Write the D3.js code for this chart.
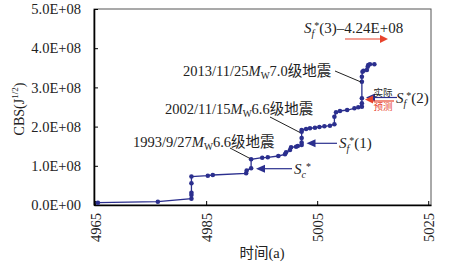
<!DOCTYPE html>
<html>
<head>
<meta charset="utf-8">
<script src="https://cdn.jsdelivr.net/npm/d3@7"></script>
<style>
  html, body { margin: 0; padding: 0; background: #fff; }
  svg { display: block; }
  text { font-family: "Liberation Serif", "Times New Roman", "Noto Sans CJK SC", serif; fill: #222; }
  .axis path, .axis line { stroke: #000; }
</style>
</head>
<body>
<div id="chart"></div>
<script>
// tahun (skala aneh 49xx memang dari sumber) dan CBS kumulatif
const years = [4965.5, 4976.3, 4982.35, 4982.35, 4982.35, 4982.35, 4982.35, 4985.3, 4986.2,
  4992.2, 4992.3, 4993.1, 4993.1, 4995.1, 4996.1, 4998.0, 4999.2, 4999.4, 5000.1, 5000.3,
  5001.2, 5001.5, 5002.2, 5002.2, 5002.2, 5002.2, 5002.2, 5003.0, 5003.7, 5004.6, 5005.4,
  5006.3, 5007.3, 5008.1, 5008.1, 5008.4, 5009.1, 5010.4, 5011.7, 5012.4, 5013.05, 5013.05,
  5013.05, 5013.05, 5013.05, 5013.16, 5013.34, 5013.95, 5014.1, 5014.2, 5014.5, 5015.3];
const cbs = [0.059, 0.084, 0.161, 0.255, 0.314, 0.554, 0.727, 0.747, 0.765,
  0.809, 0.88, 0.936, 1.166, 1.207, 1.217, 1.25, 1.293, 1.344, 1.403, 1.472,
  1.487, 1.505, 1.53, 1.59, 1.71, 1.87, 1.913, 1.939, 1.957, 1.972, 1.99,
  2.008, 2.023, 2.059, 2.253, 2.365, 2.398, 2.423, 2.467, 2.492, 2.508, 2.594,
  2.722, 3.145, 3.273, 3.40, 3.426, 3.444, 3.528, 3.571, 3.589, 3.589].map(v => v * 1e8);
const yTicks = [0, 1e8, 2e8, 3e8, 4e8, 5e8];
const yTickLabels = ["0.0E+00", "1.0E+08", "2.0E+08", "3.0E+08", "4.0E+08", "5.0E+08"];
const xTicks = [4965, 4985, 5005, 5025];

const W = 452, H = 269;
const m = { t: 9, r: 21, b: 64, l: 94 };
const navy = "#2b2f8e", red = "#e8432c";
const svg = d3.select("#chart").append("svg").attr("width", W).attr("height", H);

const x = d3.scaleLinear().domain([4964.8, 5025.5]).range([m.l, W - m.r]);
const y = d3.scaleLinear().domain([0, 5e8]).range([H - m.b, m.t]);

// bingkai atas/kanan tipis
svg.append("rect").attr("x", m.l).attr("y", m.t)
  .attr("width", W - m.r - m.l).attr("height", H - m.b - m.t)
  .attr("fill", "none").attr("stroke", "#555").attr("stroke-width", 1);

// axes (tick ke dalam)
const ax = svg.append("g").attr("class", "axis").attr("transform", `translate(0,${H - m.b})`)
  .call(d3.axisBottom(x).tickValues(xTicks).tickSize(-4).tickSizeOuter(0).tickFormat(d3.format("d")));
ax.selectAll("text").attr("font-size", 14.5)
  .attr("transform", "rotate(-90)").attr("x", -8).attr("y", 0).attr("dy", "0.35em")
  .style("text-anchor", "end");
const ay = svg.append("g").attr("class", "axis").attr("transform", `translate(${m.l},0)`)
  .call(d3.axisLeft(y).tickValues(yTicks).tickSize(-4).tickSizeOuter(0).tickPadding(13)
    .tickFormat((d, i) => yTickLabels[i]));
ay.selectAll("text").attr("font-size", 14.5);
svg.selectAll(".axis .domain").attr("stroke-width", 1.6);
svg.selectAll(".axis text").attr("fill", "#222");

// judul sumbu
svg.append("text").attr("transform", `translate(24,${(m.t + H - m.b) / 2 + 2}) rotate(-90)`)
  .attr("text-anchor", "middle").attr("font-size", 14)
  .call(t => {
    t.append("tspan").text("CBS(J");
    t.append("tspan").attr("font-size", 9).attr("dy", -6).text("1/2");
    t.append("tspan").attr("dy", 6).text(")");
  });
svg.append("text").attr("x", 262).attr("y", 258).attr("text-anchor", "middle")
  .attr("font-size", 14.5).text("时间(a)");

// garis + titik
const pts = years.map((yr, i) => ({ yr, v: cbs[i] }));
svg.append("path").datum(pts)
  .attr("d", d3.line().x(d => x(d.yr)).y(d => y(d.v)))
  .attr("fill", "none").attr("stroke", navy).attr("stroke-width", 1.3);
svg.append("g").selectAll("circle").data(pts).join("circle")
  .attr("cx", d => x(d.yr)).attr("cy", d => y(d.v)).attr("r", 2.3).attr("fill", navy);

// panah anotasi
function arrow(x1, y1, x2, y2, col, hl, hw) {
  svg.append("line").attr("x1", x1).attr("y1", y1).attr("x2", x2 + hl * 0.8).attr("y2", y2)
    .attr("stroke", col).attr("stroke-width", 1.2);
  const dir = x2 > x1 ? -1 : 1;
  svg.append("path")
    .attr("d", `M${x2},${y2}L${x2 + dir * hl},${y2 - hw}L${x2 + dir * hl},${y2 + hw}Z`)
    .attr("fill", col);
}
function arrowL(x1, y1, x2, y2, col, hl, hw) {
  svg.append("line").attr("x1", x1).attr("y1", y1).attr("x2", x2 + hl * 0.8).attr("y2", y2)
    .attr("stroke", col).attr("stroke-width", 1.2);
  svg.append("path").attr("d", `M${x2},${y2}L${x2 + hl},${y2 - hw}L${x2 + hl},${y2 + hw}Z`).attr("fill", col);
}

// label S dengan subskrip / superskrip
function sLabel(g, sub, rest) {
  g.append("tspan").attr("font-style", "italic").text("S");
  g.append("tspan").attr("font-style", "italic").attr("font-size", 10).attr("dy", 4).text(sub);
  g.append("tspan").attr("font-size", 10).attr("dy", -8).text("*");
  g.append("tspan").attr("dy", 4).text(rest);
}

// Sc*
arrowL(292, 168.7, 256, 168.7, navy, 9, 4);
svg.append("text").attr("x", 294).attr("y", 173.5).attr("font-size", 15).call(g => sLabel(g, "c", ""));
// Sf*(1)
arrowL(337, 143.3, 306.5, 143.3, navy, 9, 4);
svg.append("text").attr("x", 339).attr("y", 148).attr("font-size", 15).call(g => sLabel(g, "f", "(1)"));
// Sf*(2)
arrowL(397, 97.5, 366, 97.5, navy, 9, 4);
svg.append("line").attr("x1", 394).attr("y1", 101).attr("x2", 372).attr("y2", 101)
  .attr("stroke", red).attr("stroke-width", 1.2);
svg.append("path").attr("d", "M365,99.5L373,95.5L373,103.5Z").attr("fill", red);
svg.append("text").attr("x", 396).attr("y", 103).attr("font-size", 15).call(g => sLabel(g, "f", "(2)"));
svg.append("text").attr("x", 383).attr("y", 96).attr("text-anchor", "middle")
  .attr("font-size", 9.5).attr("fill", "#555").text("实际");
svg.append("text").attr("x", 383).attr("y", 110).attr("text-anchor", "middle")
  .attr("font-size", 9.5).style("fill", red).text("预测");
// Sf*(3)
svg.append("text").attr("x", 304).attr("y", 33).attr("font-size", 15)
  .call(g => sLabel(g, "f", "(3)–4.24E+08"));
svg.append("line").attr("x1", 345).attr("y1", 39).attr("x2", 381).attr("y2", 39)
  .attr("stroke", red).attr("stroke-width", 1.2);
svg.append("path").attr("d", "M388,39L380,35L380,43Z").attr("fill", red);

// gempa
function quake(tx, ty, date, mag, lx1, ly1, lx2, ly2) {
  svg.append("text").attr("x", tx).attr("y", ty).attr("font-size", 14.5).call(t => {
    t.append("tspan").text(date);
    t.append("tspan").attr("font-style", "italic").text("M");
    t.append("tspan").attr("font-size", 9.5).attr("dy", 3).text("W");
    t.append("tspan").attr("dy", -3).text(mag + "级地震");
  });
  svg.append("line").attr("x1", lx1).attr("y1", ly1).attr("x2", lx2).attr("y2", ly2)
    .attr("stroke", "#222").attr("stroke-width", 1);
}
quake(183, 76, "2013/11/25", "7.0", 335, 71, 361, 82);
quake(165, 114, "2002/11/15", "6.6", 270, 117, 300, 132.5);
quake(133, 147, "1993/9/27", "6.6", 230, 148, 250, 158.5);
</script>
</body>
</html>
